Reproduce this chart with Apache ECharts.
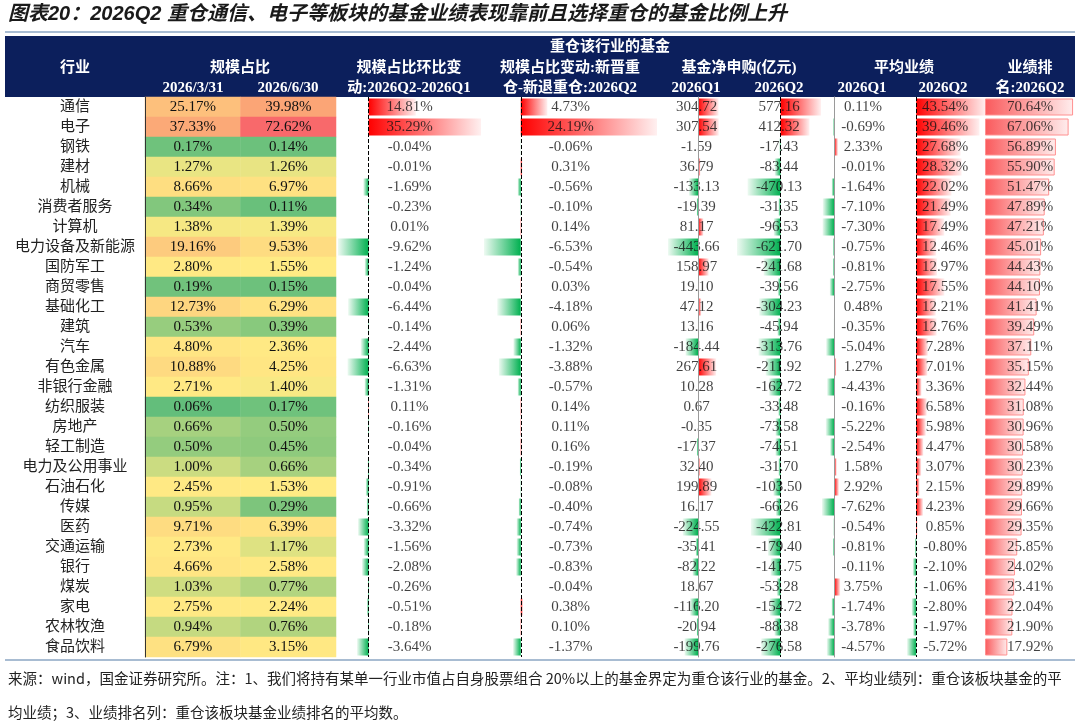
<!DOCTYPE html>
<html>
<head>
<meta charset="utf-8">
<script src="https://cdn.jsdelivr.net/npm/echarts@6/dist/echarts.min.js"></script>
<style>
  html, body { margin: 0; padding: 0; background: #fff; }
  #chart { width: 1080px; height: 725px; }
</style>
</head>
<body>
<div id="chart"></div>
<script>
// 行业
const industries = ['通信', '电子', '钢铁', '建材', '机械', '消费者服务', '计算机', '电力设备及新能源', '国防军工', '商贸零售',
  '基础化工', '建筑', '汽车', '有色金属', '非银行金融', '纺织服装', '房地产', '轻工制造', '电力及公用事业', '石油石化',
  '传媒', '医药', '交通运输', '银行', '煤炭', '家电', '农林牧渔', '食品饮料']
const shareDates = ['2026/3/31', '2026/6/30']
const quarters = ['2026Q1', '2026Q2']

// 规模占比 (%)
const share0331 = [25.17, 37.33, 0.17, 1.27, 8.66, 0.34, 1.38, 19.16, 2.80, 0.19, 12.73, 0.53, 4.80, 10.88, 2.71, 0.06, 0.66, 0.50, 1.00, 2.45, 0.95, 9.71, 2.73, 4.66, 1.03, 2.75, 0.94, 6.79]
const share0630 = [39.98, 72.62, 0.14, 1.26, 6.97, 0.11, 1.39, 9.53, 1.55, 0.15, 6.29, 0.39, 2.36, 4.25, 1.40, 0.17, 0.50, 0.45, 0.66, 1.53, 0.29, 6.39, 1.17, 2.58, 0.77, 2.24, 0.76, 3.15]
// 规模占比环比变动 (%)
const shareChange = [14.81, 35.29, -0.04, -0.01, -1.69, -0.23, 0.01, -9.62, -1.24, -0.04, -6.44, -0.14, -2.44, -6.63, -1.31, 0.11, -0.16, -0.04, -0.34, -0.91, -0.66, -3.32, -1.56, -2.08, -0.26, -0.51, -0.18, -3.64]
// 新晋重仓-新退重仓 (%)
const newMinusExit = [4.73, 24.19, -0.06, 0.31, -0.56, -0.10, 0.14, -6.53, -0.54, 0.03, -4.18, 0.06, -1.32, -3.88, -0.57, 0.14, 0.11, 0.16, -0.19, -0.08, -0.40, -0.74, -0.73, -0.83, -0.04, 0.38, 0.10, -1.37]
// 基金净申购 (亿元)
const netSubQ1 = [304.72, 307.54, -1.59, 36.79, -133.13, -19.39, 81.17, -443.66, 158.97, 19.10, 47.12, 13.16, -184.44, 267.61, 10.28, 0.67, -0.35, -17.37, 32.40, 199.89, 16.17, -224.55, -35.41, -82.22, 18.67, -116.20, -20.94, -199.76]
const netSubQ2 = [577.16, 412.32, -17.43, -83.44, -470.13, -31.35, -96.53, -621.70, -241.68, -39.56, -304.23, -45.94, -313.76, -211.92, -162.72, -33.48, -73.58, -74.51, -31.70, -103.50, -66.26, -422.81, -179.40, -141.75, -53.28, -154.72, -88.38, -276.58]
// 平均业绩 (%)
const perfQ1 = [0.11, -0.69, 2.33, -0.01, -1.64, -7.10, -7.30, -0.75, -0.81, -2.75, 0.48, -0.35, -5.04, 1.27, -4.43, -0.16, -5.22, -2.54, 1.58, 2.92, -7.62, -0.54, -0.81, -0.11, 3.75, -1.74, -3.78, -4.57]
const perfQ2 = [43.54, 39.46, 27.68, 28.32, 22.02, 21.49, 17.49, 12.46, 12.97, 17.55, 12.21, 12.76, 7.28, 7.01, 3.36, 6.58, 5.98, 4.47, 3.07, 2.15, 4.23, 0.85, -0.80, -2.10, -1.06, -2.80, -1.97, -5.72]
// 业绩排名 (%)
const rankQ2 = [70.64, 67.06, 56.89, 55.90, 51.47, 47.89, 47.21, 45.01, 44.43, 44.10, 41.41, 39.49, 37.11, 35.15, 32.44, 31.08, 30.96, 30.58, 30.23, 29.89, 29.66, 29.35, 25.85, 24.02, 23.41, 22.04, 21.90, 17.92]

const NUM_FONT = '"Liberation Serif", "Noto Sans CJK SC", serif'
const CJK_FONT = '"Liberation Serif", "Noto Sans CJK SC", sans-serif'
const TOP = 97
const HEIGHT = 560

const pct = v => v.toFixed(2) + '%'
const num = v => v.toFixed(2)
const lo = a => Math.min(...a)
const hi = a => Math.max(...a)

// 三色刻度 (绿-黄-红), 中点取50分位
const allShare = share0331.concat(share0630)
function percentile(arr, p) {
  const s = arr.slice().sort((a, b) => a - b)
  const pos = (s.length - 1) * p
  const i = Math.floor(pos)
  return s[i] + (s[Math.min(i + 1, s.length - 1)] - s[i]) * (pos - i)
}
const sMin = lo(allShare), sMax = hi(allShare), sMid = percentile(allShare, 0.5)
function mix(c1, c2, t) {
  const a = c1.match(/\w\w/g).map(h => parseInt(h, 16))
  const b = c2.match(/\w\w/g).map(h => parseInt(h, 16))
  return 'rgb(' + a.map((x, k) => Math.round(x + (b[k] - x) * t)).join(',') + ')'
}
function scaleColor(v) {
  if (v <= sMid) return mix('63BE7B', 'FFEB84', (v - sMin) / (sMid - sMin))
  return mix('FFEB84', 'F8696B', (v - sMid) / (sMax - sMid))
}

function grad(stops) {
  return { type: 'linear', x: 0, y: 0, x2: 1, y2: 0, colorStops: stops.map((c, k) => ({ offset: k / (stops.length - 1), color: c })) }
}
function barFill(v, rank) {
  if (rank) return { color: grad(['#fa5a5c', '#ffeded']), borderColor: '#ff9090', borderWidth: 1 }
  if (v >= 0) return { color: grad(['#ff0000', '#fff0f0']) }
  return { color: grad(['#eefaf2', '#00b050']) }
}

const netAll = netSubQ1.concat(netSubQ2)
const perfAll = perfQ1.concat(perfQ2)

// 数据条列
const barCols = [
  { values: shareChange, left: 338, width: 143, min: lo(shareChange), max: hi(shareChange), fmt: pct },
  { values: newMinusExit, left: 484, width: 173, min: lo(newMinusExit), max: hi(newMinusExit), fmt: pct },
  { values: netSubQ1, left: 656, width: 81, min: lo(netAll), max: hi(netAll), fmt: num, edge: true },
  { values: netSubQ2, left: 737, width: 84, min: lo(netAll), max: hi(netAll), fmt: num },
  { values: perfQ1, left: 822, width: 82, min: lo(perfAll), max: hi(perfAll), fmt: pct, edge: true, dash: '#555' },
  { values: perfQ2, left: 904, width: 82, min: lo(perfAll), max: hi(perfAll), fmt: pct },
  { values: rankQ2, left: 985, width: 90, min: 0, max: hi(rankQ2) * 1.022, fmt: pct, rank: true }
]

const grid = [{ left: 145, top: TOP, width: 191, height: HEIGHT }]
const xAxis = [{ type: 'category', gridIndex: 0, data: shareDates, show: false }]
const yAxis = [{
  type: 'category', gridIndex: 0, data: industries, inverse: true, z: 10,
  axisLine: { show: true, lineStyle: { color: '#333', width: 1 } },
  axisTick: { show: false },
  axisLabel: { align: 'center', margin: 70, fontSize: 15, color: '#222', fontFamily: CJK_FONT }
}]

const heatData = []
;[share0331, share0630].forEach((col, c) => {
  col.forEach((v, i) => heatData.push({ value: [c, i, v], itemStyle: { color: scaleColor(v) } }))
})

const series = [{
  type: 'heatmap', xAxisIndex: 0, yAxisIndex: 0, data: heatData, silent: true,
  label: { show: true, formatter: p => pct(p.value[2]), fontSize: 15, color: '#111', fontFamily: NUM_FONT },
  emphasis: { disabled: true }
}]

barCols.forEach((col, k) => {
  const g = k + 1
  grid.push({ left: col.left, top: TOP, width: col.width, height: HEIGHT })
  xAxis.push({ type: 'value', gridIndex: g, min: col.min, max: col.max, show: false })
  yAxis.push({
    type: 'category', gridIndex: g, data: industries, inverse: true, z: 10,
    show: !!col.edge,
    axisLine: { show: !!col.edge, lineStyle: { color: '#9a9a9a' } },
    axisTick: { show: false }, axisLabel: { show: false }
  })
  series.push({
    type: 'bar', xAxisIndex: g, yAxisIndex: g, barWidth: 17, silent: true,
    data: col.values.map(v => ({ value: v, itemStyle: barFill(v, col.rank) })),
    markLine: col.rank ? undefined : {
      silent: true, symbol: 'none', label: { show: false }, z: 8,
      lineStyle: { type: [4, 2], color: col.dash || '#000', width: 1, opacity: 1 },
      emphasis: { disabled: true },
      data: [{ xAxis: 0 }]
    }
  })
  const mid = (col.min + col.max) / 2
  series.push({
    type: 'scatter', xAxisIndex: g, yAxisIndex: g, symbolSize: 1, silent: true, z: 6,
    itemStyle: { color: 'rgba(0,0,0,0)' },
    data: col.values.map((v, i) => [mid, i]),
    label: {
      show: true, position: 'inside', color: '#111', fontSize: 15, fontFamily: NUM_FONT,
      formatter: p => col.fmt(col.values[p.dataIndex])
    }
  })
})

// 表头
const HEAD_FONT = 'bold 15px "Liberation Serif", "Noto Sans CJK SC", serif'
const headText = (text, x, y) => ({
  type: 'text', x, y, z: 20,
  style: { text, fill: '#fff', font: HEAD_FONT, align: 'center', verticalAlign: 'middle' }
})
const FOOT_FONT = '14.5px "Noto Sans CJK SC", sans-serif'
const graphic = [
  { type: 'line', shape: { x1: 5, y1: 32, x2: 1075, y2: 32 }, style: { stroke: '#a8bcd2', lineWidth: 2 } },
  { type: 'rect', shape: { x: 5, y: 36, width: 1070, height: 61 }, style: { fill: '#0c1f5c' } },
  { type: 'line', shape: { x1: 5, y1: 660, x2: 1075, y2: 660 }, style: { stroke: '#a8bcd2', lineWidth: 2 } },
  {
    type: 'text', x: 8, y: 14,
    style: {
      text: '图表20：2026Q2 重仓通信、电子等板块的基金业绩表现靠前且选择重仓的基金比例上升',
      fill: '#1a1a1a', font: 'italic bold 20px "Liberation Sans", "Noto Sans CJK SC", sans-serif', verticalAlign: 'middle'
    }
  },
  headText('重仓该行业的基金', 610, 47),
  headText('行业', 75, 68),
  headText('规模占比', 240, 68),
  headText(shareDates[0], 193, 88),
  headText(shareDates[1], 288, 88),
  headText('规模占比环比变', 409, 68),
  headText('动:2026Q2-2026Q1', 409, 88),
  headText('规模占比变动:新晋重', 570, 68),
  headText('仓-新退重仓:2026Q2', 570, 88),
  headText('基金净申购(亿元)', 739, 68),
  headText(quarters[0], 696, 88),
  headText(quarters[1], 779, 88),
  headText('平均业绩', 904, 68),
  headText(quarters[0], 862, 88),
  headText(quarters[1], 943, 88),
  headText('业绩排', 1030, 68),
  headText('名:2026Q2', 1030, 88),
  {
    type: 'text', x: 8, y: 678,
    style: {
      text: '来源：wind，国金证券研究所。注：1、我们将持有某单一行业市值占自身股票组合 20%以上的基金界定为重仓该行业的基金。2、平均业绩列：重仓该板块基金的平',
      fill: '#222', font: FOOT_FONT, verticalAlign: 'middle'
    }
  },
  {
    type: 'text', x: 8, y: 712,
    style: {
      text: '均业绩；3、业绩排名列：重仓该板块基金业绩排名的平均数。',
      fill: '#222', font: FOOT_FONT, verticalAlign: 'middle'
    }
  }
]

const myChart = echarts.init(document.getElementById('chart'))
myChart.setOption({
  animation: false,
  backgroundColor: '#fff',
  grid, xAxis, yAxis, series, graphic
})
</script>
</body>
</html>
